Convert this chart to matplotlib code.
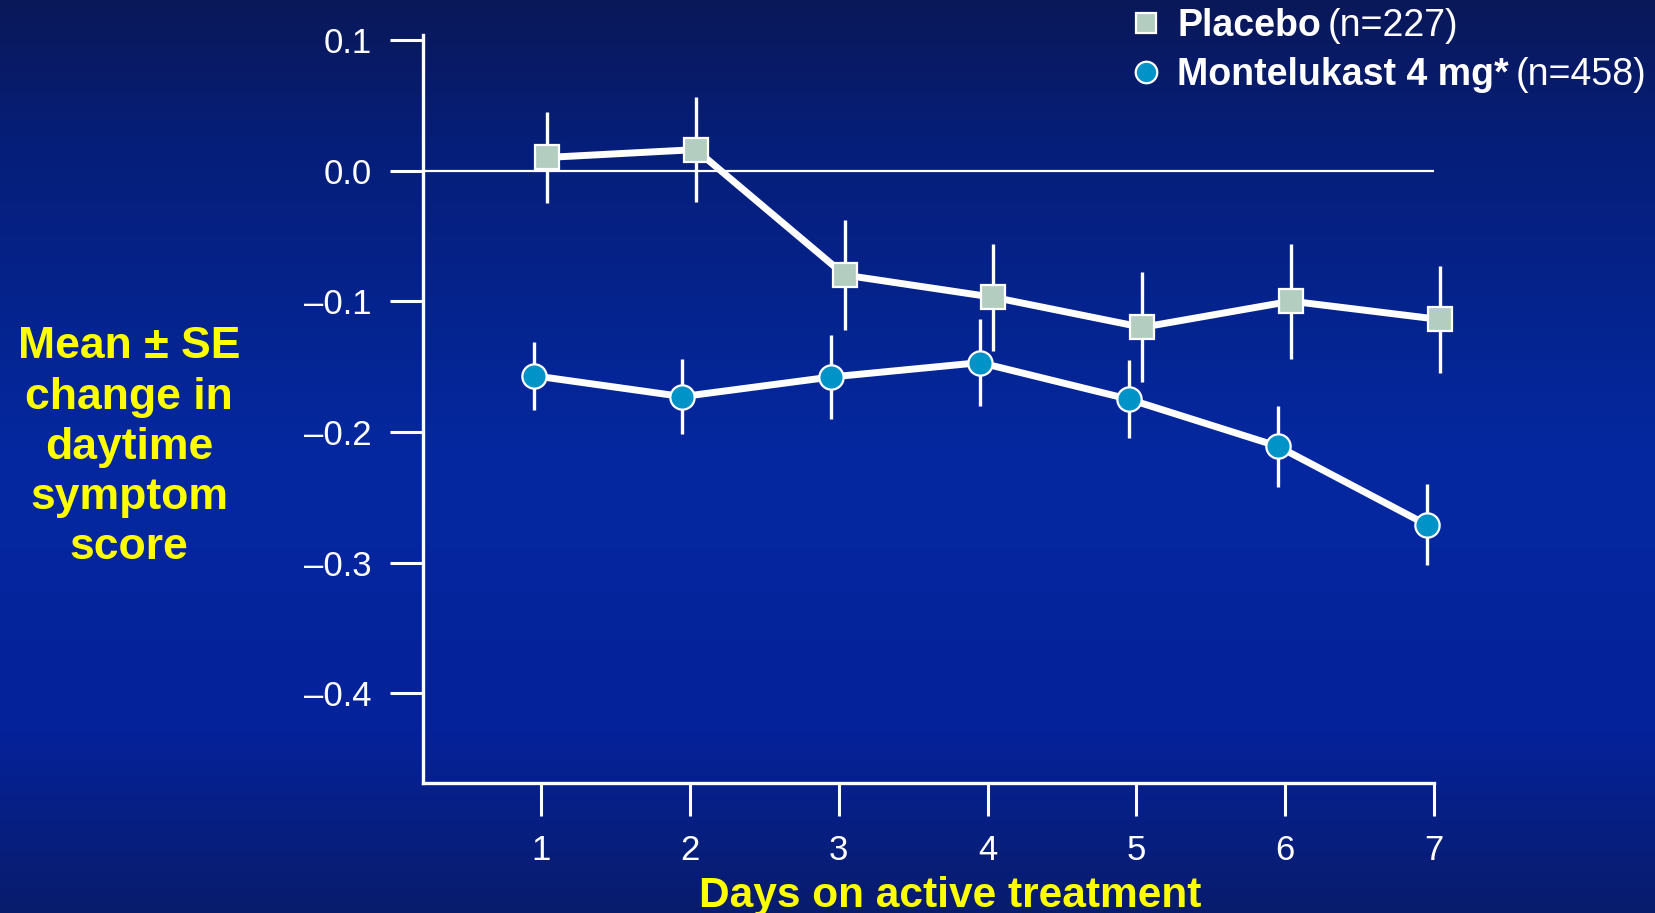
import numpy as np
import matplotlib
matplotlib.use("Agg")
import matplotlib.pyplot as plt
from matplotlib.colors import LinearSegmentedColormap
from matplotlib.lines import Line2D
from matplotlib.ticker import FuncFormatter

plt.rcParams['font.family'] = ['Liberation Sans', 'DejaVu Sans']

days = [1, 2, 3, 4, 5, 6, 7]
placebo_mean = [0.010, 0.016, -0.080, -0.097, -0.120, -0.100, -0.114]
placebo_se = [0.035, 0.040, 0.042, 0.041, 0.042, 0.044, 0.041]
monte_mean = [-0.157, -0.173, -0.158, -0.147, -0.175, -0.211, -0.271]
monte_se = [0.026, 0.029, 0.032, 0.033, 0.030, 0.031, 0.031]
yticks = [0.1, 0.0, -0.1, -0.2, -0.3, -0.4]

placebo_label = ("Placebo", "(n=227)")
monte_label = ("Montelukast 4 mg*", "(n=458)")
ylabel = "Mean \u00b1 SE\nchange in\ndaytime\nsymptom\nscore"
xlabel = "Days on active treatment"

white = "white"
yellow = "#ffff00"
sq_color = "#b3cdc0"
circ_color = "#0093c8"

fig = plt.figure(figsize=(16.55, 9.13), dpi=100)

# background gradient
bg = fig.add_axes([0, 0, 1, 1], zorder=-10)
cmap = LinearSegmentedColormap.from_list(
    "bg", [(0.0, "#0a1858"), (0.15, "#061e78"), (0.5, "#0428a0"),
           (0.8, "#05229a"), (1.0, "#081c6c")])
grad = np.linspace(0, 1, 256).reshape(-1, 1)
bg.imshow(grad, aspect="auto", cmap=cmap, extent=[0, 1, 0, 1])
bg.axis("off")

ax = fig.add_axes([423 / 1655, 1 - 783 / 913, (1434 - 423) / 1655, (783 - 35) / 913])
ax.set_facecolor("none")
ax.set_xlim(0.207, 7.0)
ax.set_ylim(-0.4687, 0.1037)

x = np.array(days, dtype=float)
ax.axhline(0, color=white, lw=1.6, zorder=1)

ax.errorbar(x + 0.04, placebo_mean, yerr=placebo_se, fmt="none", ecolor=white,
            elinewidth=2.4, capsize=0, zorder=2, clip_on=False)
ax.errorbar(x - 0.05, monte_mean, yerr=monte_se, fmt="none", ecolor=white,
            elinewidth=2.4, capsize=0, zorder=2, clip_on=False)
ax.plot(x + 0.04, placebo_mean, color=white, lw=5, marker="s", ms=17.5,
        mfc=sq_color, mec=white, mew=1.6, zorder=3, clip_on=False)
ax.plot(x - 0.05, monte_mean, color=white, lw=5, marker="o", ms=17.5,
        mfc=circ_color, mec=white, mew=1.6, zorder=3, clip_on=False)

for s in ["top", "right"]:
    ax.spines[s].set_visible(False)
for s in ["left", "bottom"]:
    ax.spines[s].set_color(white)
    ax.spines[s].set_linewidth(2.4)

ax.set_xticks(days)
ax.set_yticks(yticks)
ax.yaxis.set_major_formatter(FuncFormatter(
    lambda v, p: f"{v:.1f}".replace("-", "\u2013") if abs(v) > 1e-9 else "0.0"))
ax.tick_params(axis="both", colors=white, labelcolor=white, width=2.2,
               length=24, direction="out", labelsize=25, pad=13)

fig.text(0.078, 0.510, ylabel, color=yellow, fontsize=32, fontweight="bold",
         ha="center", va="center", multialignment="center", linespacing=1.29)
fig.text(0.574, 0.0184, xlabel, color=yellow, fontsize=30.6, fontweight="bold",
         ha="center", va="center")

# legend
renderer = fig.canvas.get_renderer()
rows = [(placebo_label, "s", sq_color, 15, 1 - 26 / 913),
        (monte_label, "o", circ_color, 15.5, 1 - 75 / 913)]
for (bold, reg), mk, col, ms, yy in rows:
    fig.add_artist(Line2D([1146 / 1655], [yy + 3 / 913], marker=mk, ms=ms, mfc=col,
                          mec=white, mew=1.6, ls="none", transform=fig.transFigure))
    t = fig.text(1177 / 1655, yy, bold, color=white, fontsize=27,
                 fontweight="bold", ha="left", va="center")
    bb = t.get_window_extent(renderer)
    fig.text(bb.x1 / fig.bbox.width + 7 / 1655, yy, reg, color=white,
             fontsize=27, ha="left", va="center")

fig.savefig("out.png", dpi=100)
